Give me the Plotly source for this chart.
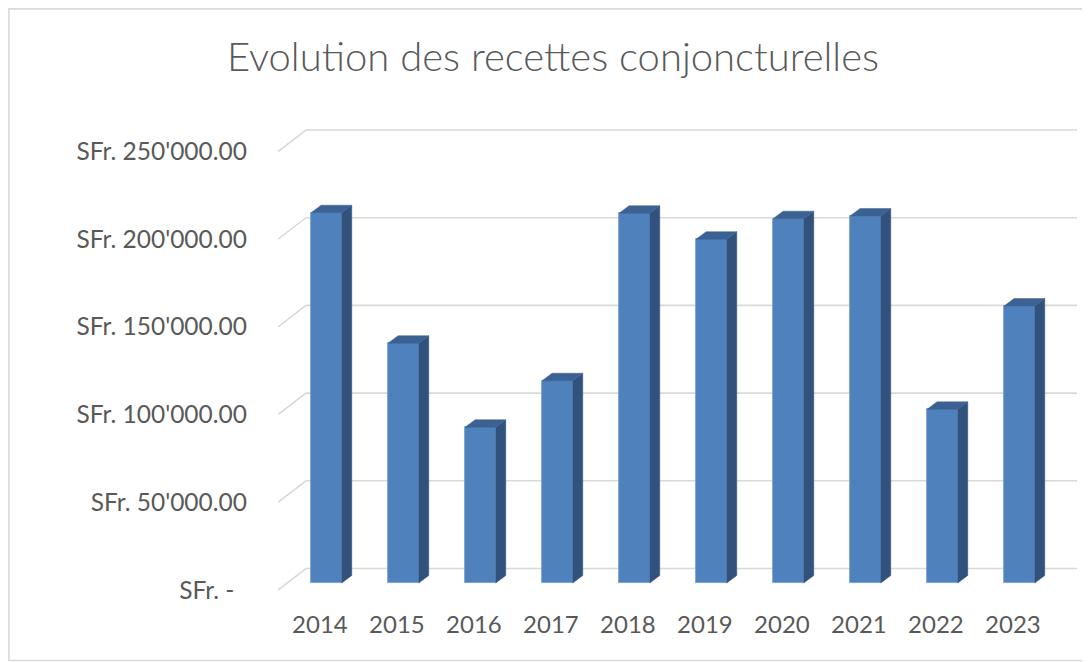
import plotly.graph_objects as go

# ---------------- data ----------------
years = ["2014", "2015", "2016", "2017", "2018", "2019", "2020", "2021", "2022", "2023"]
values = [211100, 136700, 88800, 115300, 210800, 196000, 207700, 209200, 99000, 157900]
tick_values = [0, 50000, 100000, 150000, 200000, 250000]
tick_labels = ["SFr. -\u00a0\u00a0", "SFr. 50'000.00", "SFr. 100'000.00",
               "SFr. 150'000.00", "SFr. 200'000.00", "SFr. 250'000.00"]
title_text = "Evolution des recettes conjoncturelles"

# ---------------- geometry (screen pixels) ----------------
PAGE_OFF = 8                              # default body margin of the html page
W, H = 1090 - PAGE_OFF, 662 - PAGE_OFF
PLOT_L, PLOT_R, PLOT_T, PLOT_B = 278, 1077, 120, 600
X0_PX, X_STEP_PX = 326.4, 77.0            # centre of first bar face, category spacing
Y0_PX, PX_PER_UNIT = 583.0, 87.7 / 50000  # bar-plane baseline, scale
BAR_W_PX = 30.7
DEPTH_DX_PX, DEPTH_DY_PX = 10.0, 7.5      # bar depth projection
BACK_LEFT_PX, BACK_ZERO_PX = 306.0, 568.5
FRONT_ZERO_PX = 590.0
LABEL_SHIFT_PX = -6.5

def px_x(dpx):
    return dpx / X_STEP_PX

def px_y(dpx):
    return dpx / PX_PER_UNIT

x_range = [px_x(PLOT_L - X0_PX), px_x(PLOT_R - X0_PX)]
y_range = [-px_y(PLOT_B - Y0_PX), px_y(Y0_PX - PLOT_T)]

bw = px_x(BAR_W_PX)
ddx = px_x(DEPTH_DX_PX)
ddy = px_y(DEPTH_DY_PX)
back_dy = px_y(Y0_PX - BACK_ZERO_PX)
front_dy = -px_y(FRONT_ZERO_PX - Y0_PX)
x_front = x_range[0]
x_back = px_x(BACK_LEFT_PX - X0_PX)
x_right = x_range[1]

FACE = "#4F81BD"
SIDE = "#30527D"
TOP = "#3C6294"
GRID = "#D9D9D9"
TXT = "#595959"
FONT = "Lato"

fig = go.Figure()

# front faces
xs = list(range(len(years)))
fig.add_trace(go.Bar(x=xs, y=values, width=bw,
                     marker=dict(color=FACE, line=dict(color="#6E9BD0", width=0.8)),
                     hoverinfo="skip", showlegend=False))

# side and top faces
sx, sy = [], []
tx, ty = [], []
for i, v in zip(xs, values):
    r = i + bw / 2
    l = i - bw / 2
    sx += [r, r + ddx, r + ddx, r, r, None]
    sy += [0, ddy, v + ddy, v, 0, None]
    tx += [l, r, r + ddx, l + ddx, l, None]
    ty += [v, v, v + ddy, v + ddy, v, None]
fig.add_trace(go.Scatter(x=sx, y=sy, mode="lines", fill="toself", fillcolor=SIDE,
                         line=dict(color=SIDE, width=0.5), hoverinfo="skip", showlegend=False))
fig.add_trace(go.Scatter(x=tx, y=ty, mode="lines", fill="toself", fillcolor=TOP,
                         line=dict(color=TOP, width=0.5), hoverinfo="skip", showlegend=False))

# gridlines (floor stub + back wall)
shapes = []
for v in tick_values:
    path = f"M {x_front},{v + front_dy} L {x_back},{v + back_dy} L {x_right},{v + back_dy}"
    shapes.append(dict(type="path", path=path, xref="x", yref="y", layer="below",
                       line=dict(color=GRID, width=1.6)))

# outer chart border
def pxp(px):
    return (px - PLOT_L) / (PLOT_R - PLOT_L)

def pyp(py):
    return (PLOT_B - py) / (PLOT_B - PLOT_T)

shapes.append(dict(type="rect", xref="paper", yref="paper",
                   x0=pxp(8.9), x1=pxp(1100), y0=pyp(660.5), y1=pyp(8.9),
                   line=dict(color=GRID, width=1.6), layer="below"))

fig.update_layout(
    width=W, height=H,
    margin=dict(l=PLOT_L - PAGE_OFF, r=W - (PLOT_R - PAGE_OFF), t=PLOT_T - PAGE_OFF,
                b=H - (PLOT_B - PAGE_OFF), autoexpand=False),
    paper_bgcolor="white", plot_bgcolor="rgba(0,0,0,0)",
    shapes=shapes,
    title=dict(text=title_text, x=(553 - PAGE_OFF) / W, xanchor="center", xref="container",
               y=1 - (57 - PAGE_OFF) / H, yanchor="middle", yref="container",
               font=dict(family=FONT, size=40, color=TXT, weight=300)),
    xaxis=dict(range=x_range, showgrid=False, zeroline=False, showline=False,
               tickmode="array", tickvals=[i + px_x(LABEL_SHIFT_PX) for i in xs], ticktext=years,
               ticks="", ticklabelstandoff=8,
               tickfont=dict(family=FONT, size=24, color=TXT), fixedrange=True),
    yaxis=dict(range=y_range, showgrid=False, zeroline=False, showline=False,
               tickmode="array", tickvals=[v + front_dy for v in tick_values], ticktext=tick_labels,
               ticks="", ticklabelstandoff=30,
               tickfont=dict(family=FONT, size=24.5, color=TXT), fixedrange=True),
    bargap=0,
    showlegend=False,
)

fig.write_html("out.html")
